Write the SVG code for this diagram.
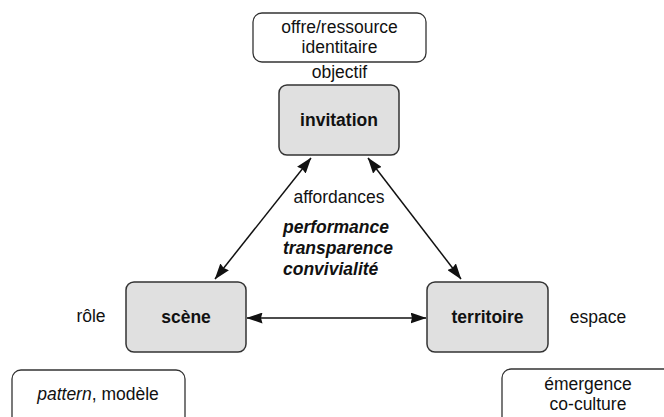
<svg xmlns="http://www.w3.org/2000/svg" width="664" height="417" viewBox="0 0 664 417">
<style>
text{font-family:"Liberation Sans",Arial,sans-serif;font-size:17.5px;fill:#111;text-anchor:middle}
.b{font-weight:bold}
.bi{font-weight:bold;font-style:italic;text-anchor:start}
.node{fill:#e0e0e0;stroke:#333;stroke-width:1.5}
.note{fill:#fff;stroke:#333;stroke-width:1.3}
.con{stroke:#111;stroke-width:1.5;fill:none;marker-start:url(#ah);marker-end:url(#ah)}
</style>
<defs>
<marker id="ah" markerUnits="userSpaceOnUse" markerWidth="16" markerHeight="11" viewBox="0 0 16 11" refX="15.5" refY="5.5" orient="auto-start-reverse">
<path d="M0,0 L16,5.5 L0,11 L1.5,5.5 z" fill="#111"/>
</marker>
</defs>
<rect width="664" height="417" fill="#fff"/>
<g id="connectors">
<line class="con" x1="311" y1="158" x2="215" y2="279"/>
<line class="con" x1="368" y1="158" x2="461" y2="279"/>
<line class="con" x1="247" y1="318" x2="426" y2="318"/>
</g>
<g id="offre">
<rect class="note" x="253" y="13" width="173" height="49" rx="9"/>
<text x="339.5" y="33">offre/ressource</text>
<text x="339.5" y="53">identitaire</text>
</g>
<g id="objectif"><text x="339.5" y="78">objectif</text></g>
<g id="invitation">
<rect class="node" x="279" y="85" width="120" height="70" rx="8"/>
<text class="b" x="339" y="126">invitation</text>
</g>
<g id="affordances">
<text x="339" y="203">affordances</text>
<text class="bi" x="283" y="233">performance</text>
<text class="bi" x="283" y="254">transparence</text>
<text class="bi" x="283" y="275">convivialité</text>
</g>
<g id="scene">
<rect class="node" x="126" y="282" width="120" height="70" rx="8"/>
<text class="b" x="186" y="323">scène</text>
</g>
<g id="role"><text x="91" y="322">rôle</text></g>
<g id="territoire">
<rect class="node" x="427" y="282" width="121" height="70" rx="8"/>
<text class="b" x="487.5" y="323">territoire</text>
</g>
<g id="espace"><text x="598" y="323">espace</text></g>
<g id="pattern">
<rect class="note" x="12" y="370" width="173" height="58" rx="9"/>
<text x="98" y="400"><tspan font-style="italic">pattern</tspan>, modèle</text>
</g>
<g id="emergence">
<rect class="note" x="502" y="369" width="180" height="58" rx="9"/>
<text x="588" y="390">émergence</text>
<text x="588" y="410">co-culture</text>
</g>
</svg>
